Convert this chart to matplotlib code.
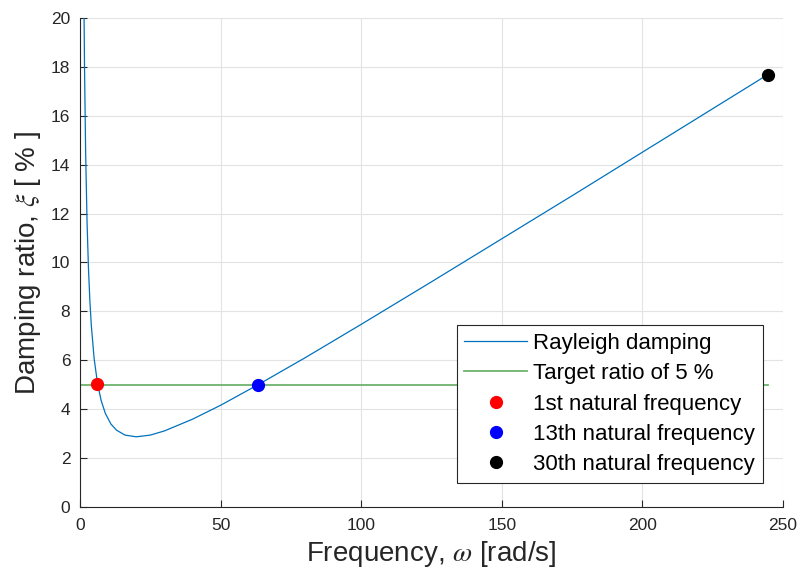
import matplotlib

matplotlib.use("Agg")
import matplotlib.pyplot as plt

# Rayleigh damping curve
omega = [1.4, 1.6, 2.0, 2.5, 3.0, 3.5, 4.0, 5.0, 6.2, 7.5, 9.0, 11.0, 13.0,
         16.0, 20.0, 25.0, 30.0, 40.0, 50.0, 63.3, 80.0, 100.0, 125.0,
         150.0, 175.0, 200.0, 225.0, 244.8]
xi = [20.56, 18.02, 14.47, 11.64, 9.77, 8.44, 7.45, 6.09, 5.07, 4.36, 3.83,
      3.39, 3.14, 2.94, 2.87, 2.94, 3.11, 3.59, 4.16, 5.00, 6.10, 7.47, 9.21,
      10.97, 12.73, 14.51, 16.29, 17.70]

target_x = [0.0, 244.8]
target_y = [5.0, 5.0]

nat_labels = ["1st natural frequency", "13th natural frequency",
              "30th natural frequency"]
nat_omega = [6.2, 63.3, 244.8]
nat_xi = [5.05, 5.0, 17.65]
nat_colors = ["#ff0000", "#0000ff", "#000000"]

plt.rcParams["font.family"] = ["Liberation Sans", "DejaVu Sans"]
plt.rcParams["mathtext.fontset"] = "stix"

fig = plt.figure(figsize=(8.01, 5.79), dpi=100)
ax = fig.add_axes([0.0999, 0.1244, 0.8776, 0.8445])

ax.plot(omega, xi, color="#0072bd", lw=0.9, label="Rayleigh damping", zorder=3)
ax.plot(target_x, target_y, color="#6db36d", lw=1.3,
        label="Target ratio of 5 %", zorder=2)
for lab, w, z, c in zip(nat_labels, nat_omega, nat_xi, nat_colors):
    ax.plot(w, z, "o", color=c, ms=8.5, label=lab, zorder=4, linestyle="none")

ax.set_xlim(0, 250)
ax.set_ylim(0, 20)
ax.set_xticks(range(0, 251, 50))
ax.set_yticks(range(0, 21, 2))
ax.grid(True, color="#e3e3e3", lw=0.8)
ax.set_axisbelow(True)
for s in ["top", "right"]:
    ax.spines[s].set_visible(False)
for s in ["left", "bottom"]:
    ax.spines[s].set_color("#262626")
    ax.spines[s].set_linewidth(0.8)
ax.tick_params(direction="in", length=5, width=0.8, colors="#262626",
               labelsize=12.5)
ax.tick_params(axis="x", pad=8)
ax.tick_params(axis="y", pad=7)

ax.set_xlabel(r"Frequency, $\omega$ [rad/s]", fontsize=20, color="#262626",
              labelpad=4)
ax.set_ylabel(r"Damping ratio, $\xi$ [ % ]", fontsize=20, color="#262626",
              labelpad=6)

leg = ax.legend(loc="lower right", bbox_to_anchor=(0.9716, 0.049),
                borderaxespad=0, fontsize=16, handlelength=2.8,
                labelspacing=0.42, fancybox=False, framealpha=1,
                edgecolor="#262626", borderpad=0.35, handletextpad=0.3)
leg.get_frame().set_linewidth(0.8)

fig.savefig("out.png", dpi=100)
plt.close(fig)
